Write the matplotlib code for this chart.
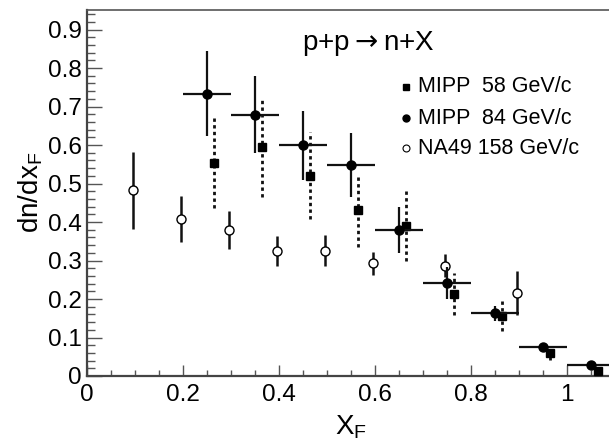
import matplotlib
matplotlib.use("Agg")
import matplotlib.pyplot as plt
from matplotlib.ticker import MultipleLocator, FuncFormatter

plt.rcParams['font.family'] = ['Liberation Sans', 'DejaVu Sans']

# MIPP 84 GeV/c (filled circles)
x84 = [0.25, 0.35, 0.45, 0.55, 0.65, 0.75, 0.85, 0.95, 1.05]
y84 = [0.733, 0.678, 0.599, 0.548, 0.379, 0.242, 0.163, 0.076, 0.029]
ey84 = [0.110, 0.100, 0.090, 0.083, 0.060, 0.042, 0.020, 0.010, 0.005]
ex84 = [0.05] * 9

# MIPP 58 GeV/c (filled squares)
x58 = [0.265, 0.365, 0.465, 0.565, 0.665, 0.765, 0.865, 0.965, 1.065]
y58 = [0.553, 0.595, 0.520, 0.431, 0.390, 0.213, 0.157, 0.059, 0.014]
ey58 = [0.116, 0.130, 0.113, 0.095, 0.090, 0.055, 0.039, 0.017, 0.005]

# NA49 158 GeV/c (open circles)
xna = [0.095, 0.195, 0.295, 0.395, 0.495, 0.595, 0.745, 0.895]
yna = [0.483, 0.408, 0.379, 0.325, 0.325, 0.293, 0.286, 0.215]
eyna = [0.100, 0.060, 0.050, 0.038, 0.040, 0.030, 0.030, 0.057]

labels = ["MIPP  58 GeV/c", "MIPP  84 GeV/c", "NA49 158 GeV/c"]
title = r"p+p$\rightarrow$n+X"

W, H = 609, 441
fig = plt.figure(figsize=(W / 100, H / 100), dpi=100)
xmin, xmax = 0.0, 1.1
ymin, ymax = 0.0, 0.952
left_px, bottom_px, top_px = 87, 376, 9.5
px_per_x = 480
ax = fig.add_axes([left_px / W, (H - bottom_px) / H,
                   (xmax - xmin) * px_per_x / W, (bottom_px - top_px) / H])
ax.set_xlim(xmin, xmax)
ax.set_ylim(ymin, ymax)

def ax_frac(xpx, ypx):
    return ((xpx - left_px) / (px_per_x * (xmax - xmin)),
            (bottom_px - ypx) / (bottom_px - top_px))

ec = '#111111'
# NA49 open circles
ax.errorbar(xna, yna, yerr=eyna, fmt='o', ms=6.5, mfc='white', mec='black', mew=1.0,
            ecolor=ec, elinewidth=1.8, capsize=0, zorder=3)
# MIPP 58 squares with dotted error bars
eb = ax.errorbar(x58, y58, yerr=ey58, fmt='s', ms=6, mfc='black', mec='black',
                 ecolor=ec, elinewidth=2.0, capsize=0, zorder=4)
for lc in eb[2]:
    lc.set_linestyle((0, (1.2, 1.2)))
# MIPP 84 circles with x bins
ax.errorbar(x84, y84, yerr=ey84, xerr=ex84, fmt='o', ms=6.5, mfc='black', mec='black',
            ecolor=ec, elinewidth=1.6, capsize=0, zorder=5)

# axes styling (ROOT-like)
for s in ['top', 'right']:
    ax.spines[s].set_color('#555555')
for s in ['left', 'bottom']:
    ax.spines[s].set_color('#444444')
    ax.spines[s].set_linewidth(1.6)
ax.spines['top'].set_linewidth(1.2)

ax.xaxis.set_major_locator(MultipleLocator(0.2))
ax.xaxis.set_minor_locator(MultipleLocator(0.05))
ax.yaxis.set_major_locator(MultipleLocator(0.1))
ax.yaxis.set_minor_locator(MultipleLocator(0.02))
ax.xaxis.set_major_formatter(FuncFormatter(lambda v, p: "0" if abs(v) < 1e-9 else f"{v:.1f}".rstrip('0').rstrip('.')))
ax.yaxis.set_major_formatter(FuncFormatter(lambda v, p: "0" if abs(v) < 1e-9 else f"{v:.1f}"))
ax.tick_params(axis='both', which='both', direction='in', color='#555555', width=1.0,
               top=False, right=False)
ax.tick_params(axis='x', which='major', length=8, pad=6, labelsize=17.5)
ax.tick_params(axis='x', which='minor', length=4)
ax.tick_params(axis='y', which='major', length=11, pad=4, labelsize=17.5)
ax.tick_params(axis='y', which='minor', length=5.5)

ax.set_xlabel(r"X$_\mathregular{F}$", fontsize=20, labelpad=5)
ax.set_ylabel(r"dn/dx$_\mathregular{F}$", fontsize=20, labelpad=2)

# title text
tx, ty = ax_frac(302, 43)
ax.text(tx, ty, title, transform=ax.transAxes, fontsize=20, ha='left', va='center')

# legend entries
rows_px = [87, 118, 148]
markers = [dict(marker='s', ms=5, mfc='black', mec='black'),
           dict(marker='o', ms=5, mfc='black', mec='black'),
           dict(marker='o', ms=5, mfc='white', mec='black', mew=0.8)]
for ypx, lab, mk in zip(rows_px, labels, markers):
    fx, fy = ax_frac(406, ypx)
    ax.plot([fx], [fy], transform=ax.transAxes, linestyle='none', clip_on=False, **mk)
    lx, _ = ax_frac(418, ypx)
    ax.text(lx, fy, lab, transform=ax.transAxes, fontsize=15.5, ha='left', va='center')

fig.savefig("out.png", dpi=100)
